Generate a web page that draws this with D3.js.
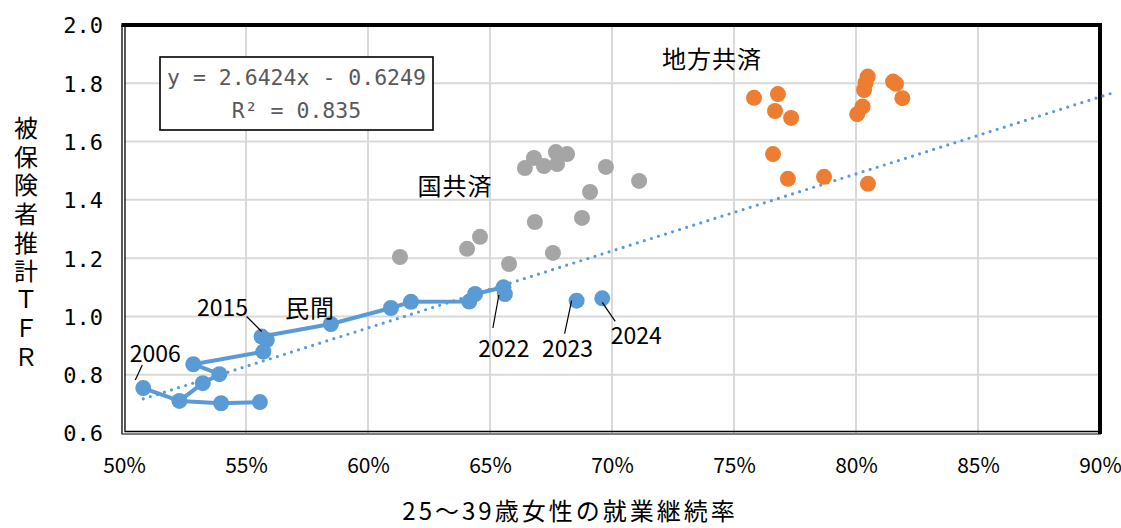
<!DOCTYPE html>
<html>
<head>
<meta charset="utf-8">
<script src="https://cdn.jsdelivr.net/npm/d3@7"></script>
<style>
  html, body { margin: 0; padding: 0; background: #fff; }
  svg { display: block; }
</style>
</head>
<body>
<svg id="chart" width="1121" height="528"></svg>
<script>
// ---------------- data ----------------
// 民間 (private sector), years 2006–2024
const minkanYears = [2006, 2007, 2008, 2009, 2010, 2011, 2012, 2013, 2014, 2015,
                     2016, 2017, 2018, 2019, 2020, 2021, 2022, 2023, 2024];
const minkanX = [0.5079, 0.5227, 0.5398, 0.5557, 0.5323, 0.5391, 0.5284, 0.5571, 0.5585, 0.5564,
                 0.5848, 0.6094, 0.6176, 0.6415, 0.6439, 0.6555, 0.6561, 0.6855, 0.6960];
const minkanY = [0.754, 0.710, 0.702, 0.706, 0.771, 0.802, 0.836, 0.879, 0.919, 0.931,
                 0.974, 1.029, 1.050, 1.051, 1.077, 1.100, 1.077, 1.054, 1.062];
// connected runs of the 民間 line (by year)
const minkanRuns = [[2006, 2007, 2008, 2009],
                    [2007, 2010, 2011, 2012, 2013, 2014, 2015, 2016, 2017, 2018, 2019, 2020, 2021, 2022]];
const minkanLabeled = [2006, 2015, 2022, 2023, 2024];

// 国共済 (national public servants)
const kokuX = [0.6131, 0.6406, 0.6459, 0.6578, 0.6684, 0.6758, 0.6877, 0.6910, 0.6975, 0.7111,
               0.6643, 0.6680, 0.6721, 0.6770, 0.6775, 0.6816];
const kokuY = [1.204, 1.232, 1.273, 1.180, 1.324, 1.218, 1.338, 1.427, 1.513, 1.465,
               1.509, 1.544, 1.516, 1.564, 1.523, 1.557];

// 地方共済 (local public servants)
const chihoX = [0.7582, 0.7680, 0.7668, 0.7734, 0.7660, 0.7721, 0.7869, 0.8049, 0.8005, 0.8027,
                0.8033, 0.8039, 0.8048, 0.8152, 0.8164, 0.8190];
const chihoY = [1.750, 1.763, 1.705, 1.681, 1.557, 1.472, 1.479, 1.455, 1.694, 1.720,
                1.777, 1.801, 1.823, 1.806, 1.798, 1.749];

// linear trend (all data)
const trendSlope = 2.6424;
const trendIntercept = -0.6249;
const trendR2 = 0.835;
const trendRange = [0.5079, 0.907];

const xTicks = [0.50, 0.55, 0.60, 0.65, 0.70, 0.75, 0.80, 0.85, 0.90];
const yTicks = [0.6, 0.8, 1.0, 1.2, 1.4, 1.6, 1.8, 2.0];
const yTitle = "被保険者推計ＴＦＲ";
const xTitle = "25〜39歳女性の就業継続率";
const groupNames = ["民間", "国共済", "地方共済"];

// ---------------- layout ----------------
const svg = d3.select("#chart");
const L = 124, R = 1100, T = 25, B = 433;
const x = d3.scaleLinear().domain([0.5, 0.9]).range([L, R]);
const y = d3.scaleLinear().domain([0.6, 2.0]).range([B, T]);

const BLUE = "#5b9bd5", GRAY = "#a5a5a5", ORANGE = "#ed7d31";
const CJK = "'Noto Sans CJK JP', 'Noto Sans', sans-serif";
const MONO = "'DejaVu Sans Mono', 'Liberation Mono', monospace";
const MR = 8; // marker radius

// gridlines
const grid = svg.append("g");
grid.selectAll("line.v").data(xTicks.slice(1, -1)).enter().append("line")
  .attr("x1", d => x(d)).attr("x2", d => x(d)).attr("y1", T).attr("y2", B)
  .attr("stroke", "#d9d9d9").attr("stroke-width", 2);
grid.selectAll("line.h").data(yTicks.slice(1, -1)).enter().append("line")
  .attr("x1", L).attr("x2", R).attr("y1", d => y(d)).attr("y2", d => y(d))
  .attr("stroke", "#d9d9d9").attr("stroke-width", 2);

// axes (labels only)
const xAxis = d3.axisBottom(x).tickValues(xTicks).tickSize(0).tickPadding(0)
  .tickFormat(d => Math.round(d * 100) + "%");
const gx = svg.append("g").attr("transform", `translate(0,${B})`).call(xAxis);
gx.select(".domain").remove();
gx.selectAll("text").attr("y", 40).attr("dy", 0)
  .attr("font-family", CJK).attr("font-size", 21).attr("fill", "#000");

const yAxis = d3.axisLeft(y).tickValues(yTicks).tickSize(0).tickPadding(0)
  .tickFormat(d3.format(".1f"));
const gy = svg.append("g").attr("transform", `translate(${L},0)`).call(yAxis);
gy.select(".domain").remove();
gy.selectAll("text").attr("x", -21).attr("dy", "0.36em")
  .attr("font-family", MONO).attr("font-size", 22).attr("fill", "#000");

// frame
const frame = svg.append("g").attr("fill", "none");
frame.append("path").attr("d", `M${L - 2},${B + 1} L${L - 2},${T} `).attr("stroke", "#000").attr("stroke-width", 1.3);
frame.append("path").attr("d", `M${L + 1},${T} L${L + 1},${B - 1.5} L${R},${B - 1.5}`).attr("stroke", "#000").attr("stroke-width", 1.3);
frame.append("path").attr("d", `M${L - 2.6},${B + 1} L${R + 1},${B + 1}`).attr("stroke", "#555").attr("stroke-width", 1.3);
frame.append("path").attr("d", `M${L - 2.6},${T} L${R},${T} L${R},${B + 1}`).attr("stroke", "#000").attr("stroke-width", 4);

// trendline
svg.append("line")
  .attr("x1", x(trendRange[0])).attr("y1", y(trendSlope * trendRange[0] + trendIntercept))
  .attr("x2", x(trendRange[1])).attr("y2", y(trendSlope * trendRange[1] + trendIntercept))
  .attr("stroke", BLUE).attr("stroke-width", 3.2).attr("stroke-linecap", "round")
  .attr("stroke-dasharray", "0 7.4");

// 国共済
svg.append("g").selectAll("circle").data(d3.range(kokuX.length)).enter().append("circle")
  .attr("cx", i => x(kokuX[i])).attr("cy", i => y(kokuY[i])).attr("r", MR).attr("fill", GRAY);

// 地方共済
svg.append("g").selectAll("circle").data(d3.range(chihoX.length)).enter().append("circle")
  .attr("cx", i => x(chihoX[i])).attr("cy", i => y(chihoY[i])).attr("r", MR).attr("fill", ORANGE);

// 民間
const mi = yr => minkanYears.indexOf(yr);
const line = d3.line().x(yr => x(minkanX[mi(yr)])).y(yr => y(minkanY[mi(yr)]));
svg.append("g").selectAll("path").data(minkanRuns).enter().append("path")
  .attr("d", line).attr("fill", "none").attr("stroke", BLUE).attr("stroke-width", 4)
  .attr("stroke-linejoin", "round");
svg.append("g").selectAll("circle").data(minkanYears).enter().append("circle")
  .attr("cx", yr => x(minkanX[mi(yr)])).attr("cy", yr => y(minkanY[mi(yr)])).attr("r", MR).attr("fill", BLUE);

// year labels with leader lines (offsets in px from the point)
const labelOffsets = {
  2006: {lx1: -8, ly1: -8, lx2: -1, ly2: -23, tx: 12, ty: -26},
  2015: {lx1: 0, ly1: -5, lx2: -15, ly2: -20, tx: -39, ty: -21},
  2022: {lx1: -6, ly1: 1, lx2: -12, ly2: 34, tx: -1, ty: 63},
  2023: {lx1: -5, ly1: 0, lx2: -12, ly2: 33, tx: -9, ty: 56},
  2024: {lx1: 0, ly1: 4, lx2: 13, ly2: 23, tx: 34, ty: 46}
};
const yl = svg.append("g");
minkanLabeled.forEach(yr => {
  const px = x(minkanX[mi(yr)]), py = y(minkanY[mi(yr)]);
  const o = labelOffsets[yr];
  yl.append("line").attr("x1", px + o.lx1).attr("y1", py + o.ly1)
    .attr("x2", px + o.lx2).attr("y2", py + o.ly2).attr("stroke", "#000").attr("stroke-width", 1.2);
  yl.append("text").attr("x", px + o.tx).attr("y", py + o.ty).attr("text-anchor", "middle")
    .attr("font-family", CJK).attr("font-size", 23).attr("fill", "#000").text(yr);
});

// group labels
const groupPos = [[0.5762, 0.998], [0.6357, 1.4166], [0.741, 1.852]];
svg.append("g").selectAll("text").data(groupNames).enter().append("text")
  .attr("x", (d, i) => x(groupPos[i][0])).attr("y", (d, i) => y(groupPos[i][1]))
  .attr("text-anchor", "middle").attr("font-family", CJK).attr("font-size", 24)
  .attr("letter-spacing", 1).attr("fill", "#000").text(d => d);

// equation box
const eq = svg.append("g");
eq.append("rect").attr("x", 160).attr("y", 57).attr("width", 273).attr("height", 73)
  .attr("fill", "#fff").attr("stroke", "#000").attr("stroke-width", 1.6);
eq.append("text").attr("x", 296.5).attr("y", 85).attr("text-anchor", "middle")
  .attr("font-family", MONO).attr("font-size", 21.5).attr("fill", "#595959")
  .text(`y = ${trendSlope.toFixed(4)}x - ${Math.abs(trendIntercept).toFixed(4)}`);
eq.append("text").attr("x", 296.5).attr("y", 118).attr("text-anchor", "middle")
  .attr("font-family", MONO).attr("font-size", 21.5).attr("fill", "#595959")
  .text(`R² = ${trendR2}`);

// axis titles
svg.append("text").attr("x", 26).attr("y", 116)
  .attr("writing-mode", "vertical-rl").style("text-orientation", "upright")
  .attr("font-family", CJK).attr("font-size", 24).attr("letter-spacing", 4.6)
  .attr("fill", "#000").text(yTitle);
svg.append("text").attr("x", 570).attr("y", 520).attr("text-anchor", "middle")
  .attr("font-family", CJK).attr("font-size", 24).attr("letter-spacing", 3).attr("fill", "#000").text(xTitle);
</script>
</body>
</html>
